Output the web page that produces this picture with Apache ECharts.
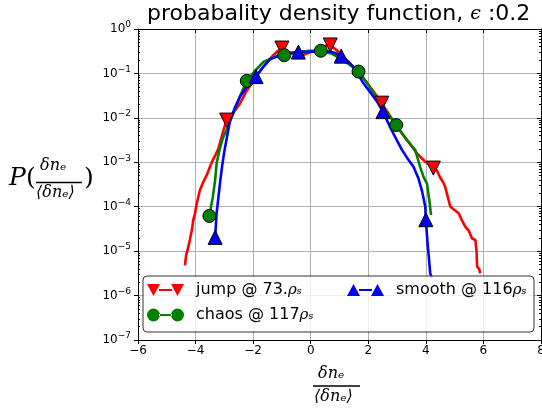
<!DOCTYPE html>
<html>
<head>
<meta charset="utf-8">
<title>pdf</title>
<script src="https://cdn.jsdelivr.net/npm/echarts@6.0.0/dist/echarts.min.js"></script>
<style>
  html, body { margin: 0; padding: 0; background: #fff; }
  #main { width: 542px; height: 417px; }
</style>
</head>
<body>
<div id="main"></div>
<script>
// x ticks
const xTicks = [-6, -4, -2, 0, 2, 4, 6, 8];

// jump @ 73.rho_s (red, down triangles)
const jumpX = [-4.37, -4.33, -4.25, -4.20, -4.13, -4.08, -4.02, -3.96, -3.85, -3.73, -3.62, -3.50, -3.40, -3.30, -3.21, -3.04, -2.92, -2.70, -2.45, -2.25, -2.05, -1.85, -1.64, -1.45, -1.30, -1.15, -1.00, -0.75, -0.48, -0.25, 0.00, 0.33, 0.50, 0.68, 0.90, 1.14, 1.50, 1.83, 2.15, 2.47, 2.75, 2.99, 3.35, 3.69, 4.00, 4.26, 4.38, 4.50, 4.60, 4.67, 4.75, 4.85, 4.95, 5.05, 5.14, 5.25, 5.37, 5.50, 5.60, 5.72, 5.76, 5.78, 5.85, 5.89];
const jumpY = [4.8e-6, 7.9e-6, 1.26e-5, 1.78e-5, 2.95e-5, 5.0e-5, 7.1e-5, 1.17e-4, 2.34e-4, 3.63e-4, 5.0e-4, 7.9e-4, 1.12e-3, 1.51e-3, 2.0e-3, 5.0e-3, 8.9e-3, 1.26e-2, 2.14e-2, 3.8e-2, 6.0e-2, 9.5e-2, 0.141, 0.2, 0.257, 0.316, 0.372, 0.302, 0.251, 0.263, 0.302, 0.363, 0.417, 0.437, 0.331, 0.240, 0.135, 7.76e-2, 4.17e-2, 2.14e-2, 1.12e-2, 6.3e-3, 3.16e-3, 1.58e-3, 1.0e-3, 7.4e-4, 6.6e-4, 4.47e-4, 3.55e-4, 2.82e-4, 1.78e-4, 1.0e-4, 8.9e-5, 7.9e-5, 7.1e-5, 5.0e-5, 3.55e-5, 2.82e-5, 1.95e-5, 1.78e-5, 1.0e-5, 4.47e-6, 3.98e-6, 3.16e-6];
const jumpMarks = [-2.92, -1.00, 0.68, 2.47, 4.26];

// chaos @ 117 rho_s (green, circles)
const chaosX = [-3.52, -3.45, -3.40, -3.32, -3.27, -3.17, -3.05, -2.92, -2.69, -2.45, -2.22, -1.95, -1.64, -1.30, -0.92, -0.50, 0.00, 0.35, 0.70, 1.00, 1.35, 1.66, 2.00, 2.35, 2.65, 2.97, 3.34, 3.63, 3.80, 3.92, 4.04, 4.12, 4.18];
const chaosY = [6.2e-5, 1.12e-4, 1.66e-4, 3.98e-4, 9.5e-4, 1.9e-3, 3.55e-3, 5.4e-3, 1.26e-2, 3.16e-2, 6.8e-2, 0.112, 0.182, 0.229, 0.257, 0.302, 0.324, 0.324, 0.282, 0.224, 0.158, 0.110, 5.6e-2, 2.51e-2, 1.32e-2, 6.9e-3, 3.16e-3, 1.9e-3, 7.9e-4, 4.7e-4, 3.3e-4, 1.41e-4, 6.5e-5];
const chaosMarks = [-3.52, -2.22, -0.92, 0.35, 1.66, 2.97];

// smooth @ 116 rho_s (blue, up triangles)
const smoothX = [-3.32, -3.27, -3.20, -3.14, -3.07, -3.00, -2.80, -2.62, -2.45, -2.20, -1.90, -1.65, -1.41, -0.95, -0.43, 0.00, 0.67, 0.85, 1.06, 1.30, 1.48, 1.65, 1.83, 2.10, 2.30, 2.51, 2.75, 2.99, 3.17, 3.40, 3.57, 3.74, 3.86, 3.98, 4.00, 4.06, 4.10, 4.15, 4.21];
const smoothY = [2.04e-5, 7.1e-5, 1.78e-4, 3.98e-4, 8.9e-4, 1.78e-3, 8.9e-3, 1.78e-2, 3.02e-2, 5.2e-2, 8.5e-2, 0.141, 0.209, 0.282, 0.302, 0.309, 0.309, 0.288, 0.245, 0.186, 0.141, 9.5e-2, 6.0e-2, 3.55e-2, 2.34e-2, 1.38e-2, 6.3e-3, 3.16e-3, 1.9e-3, 1.12e-3, 7.9e-4, 4.37e-4, 2.34e-4, 1.0e-4, 5.1e-5, 1.48e-5, 7.9e-6, 3.16e-6, 2.51e-6];
const smoothMarks = [-3.32, -1.90, -0.43, 1.06, 2.51, 4.00];

const zip = (xs, ys) => xs.map((x, i) => [x, ys[i]]);

// minor ticks of the log axis: 2..9 x 10^k
const minorTicks = [];
for (let e = -7; e < 0; e++) {
  for (let k = 2; k <= 9; k++) minorTicks.push(k * Math.pow(10, e));
}

const serif = '"DejaVu Serif", "Liberation Serif", serif';
const sans = '"DejaVu Sans", sans-serif';

const myChart = echarts.init(document.getElementById('main'), null, { renderer: 'canvas' });

const lineSeries = (name, xs, ys, marks, color, symbol, rotate, size) => ({
  name: name,
  type: 'line',
  data: zip(xs, ys),
  xAxisIndex: 0,
  yAxisIndex: 0,
  symbol: symbol,
  symbolRotate: rotate,
  showSymbol: true,
  showAllSymbol: true,
  symbolSize: (v) => marks.indexOf(v[0]) >= 0 ? size : 0,
  lineStyle: { color: color, width: 2.6 },
  itemStyle: { color: color, borderColor: '#000', borderWidth: 1 },
  emphasis: { disabled: true },
  z: 2
});

const yTickLabel = (v) => {
  const e = Math.round(Math.log10(v));
  return '{b|10}{e|' + (e < 0 ? '\u2212' + (-e) : e) + '}';
};

const gridLine = { show: true, lineStyle: { color: '#b0b0b0', width: 1 } };
const blackLine = { show: true, onZero: false, lineStyle: { color: '#000', width: 1 } };

const legendText = {
  jump: '{t|jump @ 73.}{m|\u03c1\u209b}',
  chaos: '{t|chaos @ 117}{m|\u03c1\u209b}',
  smooth: '{t|smooth @ 116}{m|\u03c1\u209b}'
};

// legend icons: two markers joined by a short line
const iconJump = 'path://M0,2L13,2L6.5,14ZM24,2L37,2L30.5,14ZM12,7.1L25,7.1L25,8.9L12,8.9Z';
const iconChaos = 'path://M0,8A6.5,6.5,0,1,0,13,8A6.5,6.5,0,1,0,0,8ZM24,8A6.5,6.5,0,1,0,37,8A6.5,6.5,0,1,0,24,8ZM12,7.1L25,7.1L25,8.9L12,8.9Z';
const iconSmooth = 'path://M6.5,2L13,14L0,14ZM30.5,2L37,14L24,14ZM12,7.1L25,7.1L25,8.9L12,8.9Z';

const legendBase = {
  orient: 'vertical',
  top: 282,
  padding: 0,
  itemGap: 9,
  itemWidth: 37,
  itemHeight: 16,
  symbolRotate: 0,
  itemStyle: { borderWidth: 0 },
  formatter: (name) => legendText[name],
  textStyle: {
    padding: [0, 0, 0, 7],
    rich: {
      t: { fontFamily: sans, fontSize: 16, color: '#000' },
      m: { fontFamily: serif, fontStyle: 'italic', fontSize: 15, color: '#000' }
    }
  },
  selectedMode: false,
  z: 5
};

const minorAxis = (pos) => ({
  type: 'log', logBase: 10, min: 1e-7, max: 1, position: pos,
  axisLine: { show: false, onZero: false },
  axisTick: { show: true, inside: true, length: 2, customValues: minorTicks, lineStyle: { color: '#000' } },
  axisLabel: { show: false },
  splitLine: { show: false }
});

myChart.setOption({
  animation: false,
  title: {
    text: '{a|probabality density function, }{e|\u03f5}{a| :0.2}',
    left: 147,
    top: 3,
    padding: 0,
    textStyle: {
      fontWeight: 'normal',
      rich: {
        a: { fontFamily: sans, fontSize: 22, fontWeight: 'normal', color: '#000' },
        e: { fontFamily: serif, fontStyle: 'italic', fontWeight: 'normal', fontSize: 19, color: '#000' }
      }
    }
  },
  grid: { left: 138, right: 1, top: 29, bottom: 77, containLabel: false, outerBoundsMode: 'none' },
  legend: [
    Object.assign({}, legendBase, { left: 147, data: [{ name: 'jump', icon: iconJump }, { name: 'chaos', icon: iconChaos }] }),
    Object.assign({}, legendBase, { left: 347, data: [{ name: 'smooth', icon: iconSmooth }] })
  ],
  xAxis: [
    {
      type: 'value', min: -6, max: 8, interval: 2, position: 'bottom',
      axisLine: blackLine,
      axisTick: { show: true, inside: false, length: 4, lineStyle: { color: '#000' } },
      axisLabel: {
        margin: 5, fontFamily: sans, fontSize: 12, color: '#000',
        formatter: (v) => v < 0 ? '\u2212' + (-v) : String(v)
      },
      splitLine: gridLine
    },
    {
      type: 'value', min: -6, max: 8, interval: 2, position: 'top',
      axisLine: blackLine,
      axisTick: { show: true, inside: true, length: 4, lineStyle: { color: '#000' } },
      axisLabel: { show: false },
      splitLine: { show: false }
    }
  ],
  yAxis: [
    {
      type: 'log', logBase: 10, min: 1e-7, max: 1, position: 'left',
      axisLine: blackLine,
      axisTick: { show: true, inside: false, length: 4, lineStyle: { color: '#000' } },
      axisLabel: {
        margin: 7, color: '#000',
        formatter: yTickLabel,
        rich: {
          b: { fontFamily: sans, fontSize: 12, color: '#000' },
          e: { fontFamily: sans, fontSize: 9, color: '#000', padding: [0, 0, 8, 0] }
        }
      },
      splitLine: gridLine
    },
    {
      type: 'log', logBase: 10, min: 1e-7, max: 1, position: 'right',
      axisLine: blackLine,
      axisTick: { show: true, inside: true, length: 4, lineStyle: { color: '#000' } },
      axisLabel: { show: false },
      splitLine: { show: false }
    },
    minorAxis('left'),
    minorAxis('right')
  ],
  series: [
    lineSeries('jump', jumpX, jumpY, jumpMarks, '#ff0000', 'triangle', 180, 14),
    lineSeries('chaos', chaosX, chaosY, chaosMarks, '#008000', 'circle', 0, 13),
    lineSeries('smooth', smoothX, smoothY, smoothMarks, '#0000ff', 'triangle', 0, 14)
  ],
  graphic: [
    // legend frame
    {
      type: 'rect', z: 4,
      shape: { x: 143, y: 276, width: 391, height: 56, r: 4 },
      style: { fill: 'rgba(255,255,255,0.8)', stroke: '#333', lineWidth: 1 }
    },
    // y label: P( dn_e / <dn_e> )
    { type: 'text', left: 9, top: 166, style: { text: 'P', font: 'italic 25px ' + serif, fill: '#000' } },
    { type: 'text', left: 26, top: 166, style: { text: '(', font: '25px ' + serif, fill: '#000' } },
    { type: 'text', left: 40, top: 158, style: { text: '\u03b4n\u2091', font: 'italic 16px ' + serif, fill: '#000' } },
    { type: 'line', shape: { x1: 36, y1: 182.5, x2: 82, y2: 182.5 }, style: { stroke: '#000', lineWidth: 1.5 } },
    { type: 'text', left: 36, top: 185, style: { text: '\u27e8\u03b4n\u2091\u27e9', font: 'italic 16px ' + serif, fill: '#000' } },
    { type: 'text', left: 84, top: 166, style: { text: ')', font: '25px ' + serif, fill: '#000' } },
    // x label
    { type: 'text', left: 318, top: 366, style: { text: '\u03b4n\u2091', font: 'italic 16px ' + serif, fill: '#000' } },
    { type: 'line', shape: { x1: 313, y1: 386, x2: 360, y2: 386 }, style: { stroke: '#000', lineWidth: 1.5 } },
    { type: 'text', left: 314, top: 389, style: { text: '\u27e8\u03b4n\u2091\u27e9', font: 'italic 16px ' + serif, fill: '#000' } }
  ]
});
</script>
</body>
</html>
